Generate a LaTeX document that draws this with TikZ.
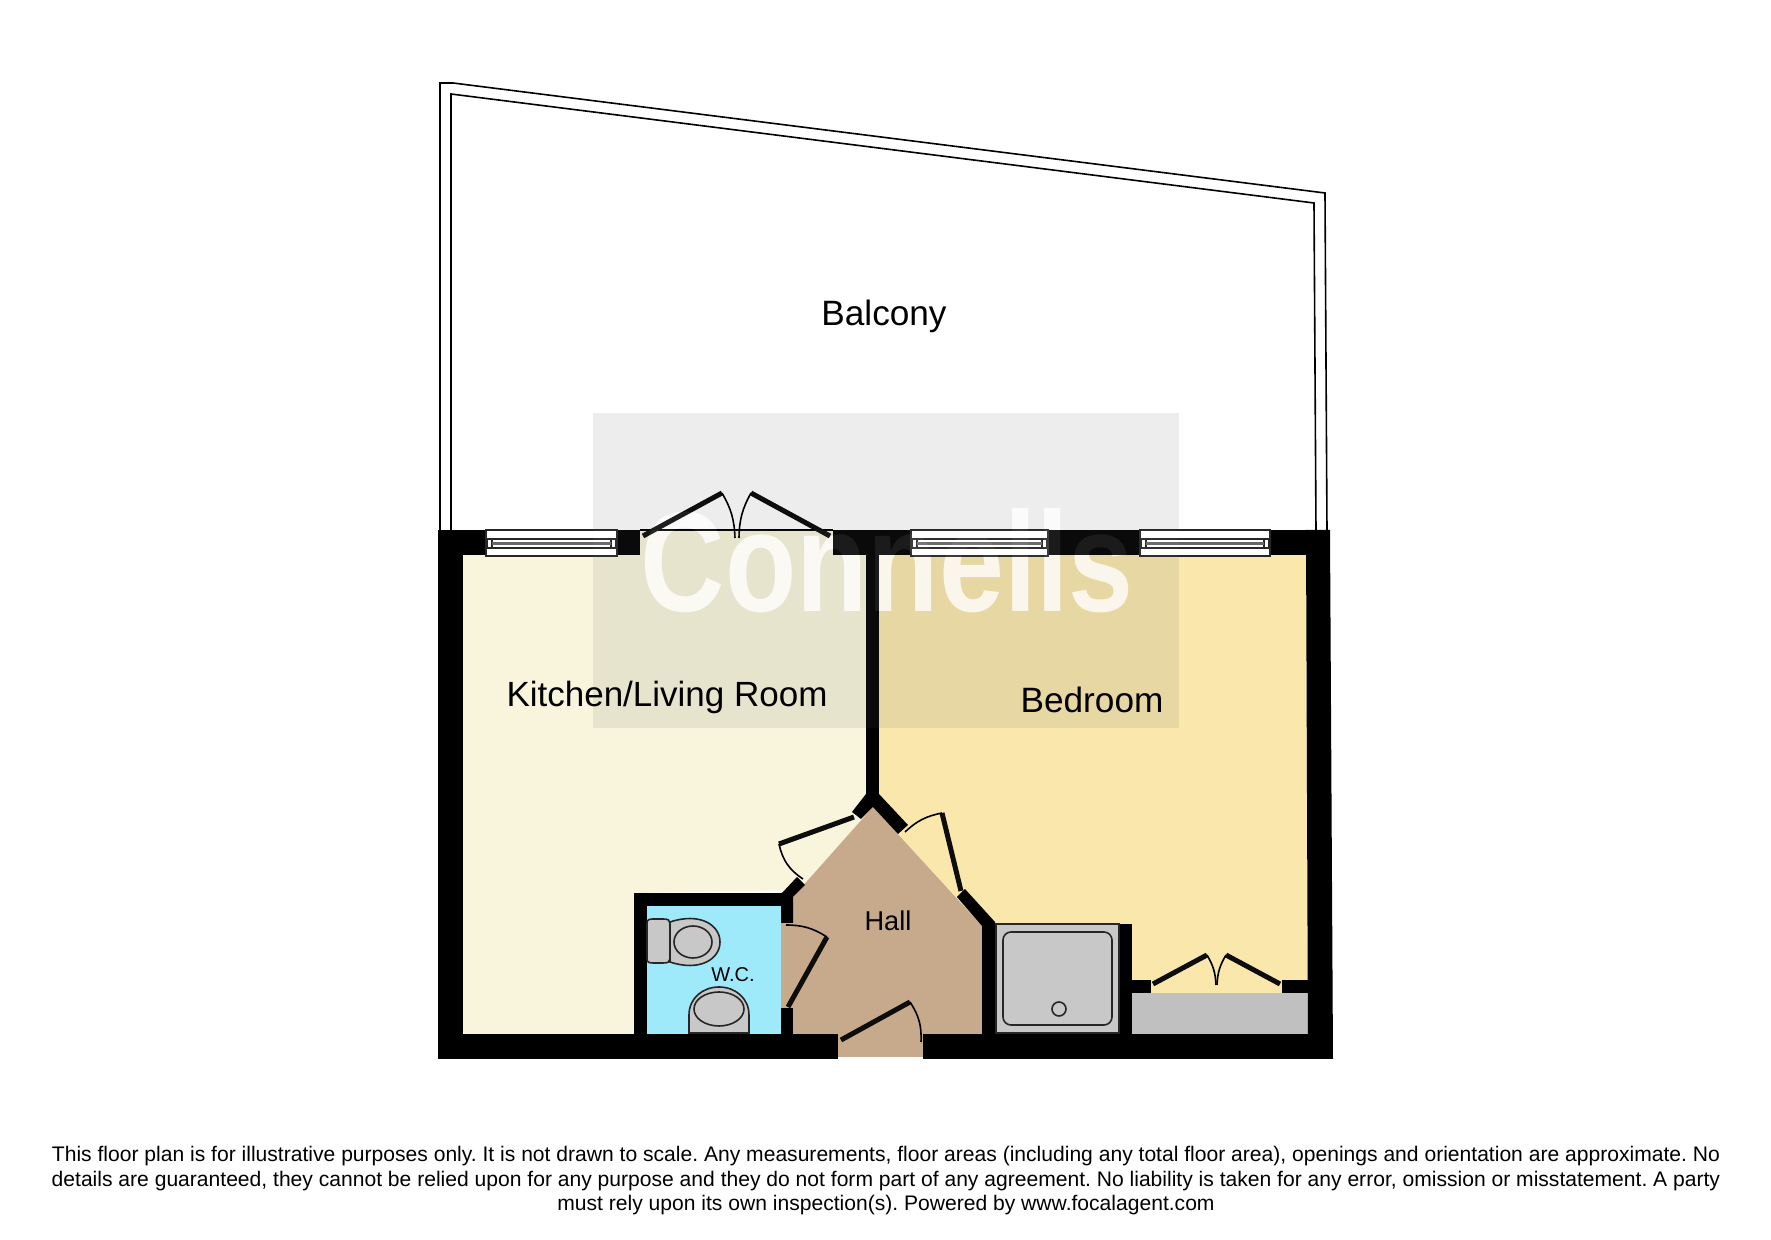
\documentclass[tikz,border=0pt]{standalone}
\usepackage{fontspec}
\setmainfont{Liberation Sans}
\definecolor{kitchenfill}{HTML}{F9F5DC}
\definecolor{bedroomfill}{HTML}{F9E7AC}
\definecolor{hallfill}{HTML}{C7AA8B}
\definecolor{wcfill}{HTML}{9FEAFA}
\definecolor{unitfill}{HTML}{C8C8C8}
\definecolor{cupboardfill}{HTML}{C0C0C0}
\newcommand{\markword}{\fontsize{35.6}{36}\selectfont\bfseries\scalebox{.82}[1]{Connells}}
\begin{document}
\begin{tikzpicture}[
      x=0.25pt, y=-0.25pt,
      wall/.style ={fill=black},
      leaf/.style ={line width=1.25pt,color=black!95},
      swing/.style ={line width=0.4pt,color=black},
      rail/.style ={line width=0.4pt,color=black},
      fixture/.style ={fill=unitfill,draw=black!85,line width=0.4pt},
      frame/.style ={fill=white,draw=black!85,line width=0.4pt},
      room label/.style ={text=black,inner sep=0pt,font=\fontsize{#1}{#1}\selectfont},
      room label/.default=8.7]
    \useasboundingbox (0,0) rectangle (1771,1240);
    % balcony
    \draw[rail] (440,530) -- (440,83) -- (453,83) -- (1325,193) -- (1327,530);
    \draw[rail] (451,530) -- (451,94) -- (1314,203) -- (1316,530);
    % rooms
    \fill[kitchenfill] (463,555) -- (640,555) -- (640,530) -- (833,530) -- (833,555) -- (866,555) -- (866,815)
      -- (800,890) -- (634,893) -- (634,1034) -- (463,1034) -- cycle;
    \fill[bedroomfill] (879,555) -- (1306,555) -- (1308,993) -- (1132,993) -- (1132,924) -- (990,924) -- (982,926) -- (873,807) -- (879,800) -- cycle;
    \fill[hallfill] (873,807) -- (793,897) -- (793,923) -- (781,923) -- (781,1008) -- (793,1008) -- (793,1034)
      -- (838,1034) -- (838,1057) -- (923,1057) -- (923,1034) -- (982,1034) -- (982,926) -- cycle;
    \fill[wcfill] (647,906) rectangle (781,1034);
    \fill[cupboardfill] (1132,993) rectangle (1308,1034);
    % watermark, under the walls
    \fill[black,opacity=.07] (593,413) rectangle (1179,728);
    \node[text=white,text opacity=.8,inner sep=0pt,anchor=base west] (mark) at (640,612) {\markword};
    % walls
    \fill[wall] (438,530) rectangle (463,1059);
    \fill[wall] (438,530) rectangle (640,555);
    \fill[wall] (833,530) rectangle (1330,555);
    \fill[wall] (1306,530) -- (1330,530) -- (1333,1059) -- (1308,1059) -- cycle;
    \fill[wall] (438,1034) rectangle (838,1059);
    \fill[wall] (923,1034) rectangle (1333,1059);
    \fill[wall] (866,555) rectangle (879,800);
    \fill[wall] (852,812) -- (866,794) -- (879,794) -- (908,825) -- (898,834) -- (873,807) -- (861,819) -- cycle;
    \fill[wall] (634,893) rectangle (782,906);
    \fill[wall] (634,893) rectangle (647,1034);
    \fill[wall] (782,893) -- (797,877) -- (805,885) -- (793,897) -- (793,923) -- (781,923) -- (781,893) -- cycle;
    \fill[wall] (781,1008) rectangle (793,1034);
    \fill[wall] (965,889) -- (995,922) -- (995,1034) -- (982,1034) -- (982,926) -- (957,897) -- cycle;
    \fill[wall] (1119,924) rectangle (1132,1034);
    \fill[wall] (1132,980) rectangle (1151,993);
    \fill[wall] (1282,980) rectangle (1308,993);
    \draw[rail] (640,530) -- (833,530);
    % windows
    \foreach \xa/\xb in {486/617,911/1048,1140/1270} {
      \draw[frame] (\xa,530) rectangle (\xb,556);
      \draw[frame] (\xa+1,539) rectangle (\xb-1,548);
      \draw[frame] (\xa+6,539) rectangle (\xb-6,548);
      \draw[line width=0.7pt,color=black!60] (\xa+6,543.5) -- (\xb-6,543.5);
    }
    % doors
    \draw[leaf] (643,536) -- (722,493);
    \draw[swing] (722,493) to[bend left=14] (735,538);
    \draw[leaf] (830,536) -- (751,493);
    \draw[swing] (751,493) to[bend right=14] (739,538);
    \draw[leaf] (854,817) -- (779,844);
    \draw[swing] (779,844) to[bend right=22] (803,879);
    \draw[leaf] (961,891) -- (942,813);
    \draw[swing] (942,813) to[bend right=16] (905,832);
    \draw[leaf] (788,1007) -- (827,937);
    \draw[swing] (827,937) to[bend right=16] (786,925);
    \draw[leaf] (841,1040) -- (910,1002);
    \draw[swing] (910,1002) to[bend left=18] (921,1042);
    \draw[leaf] (1153,984) -- (1207,955);
    \draw[swing] (1207,955) to[bend left=14] (1216,985);
    \draw[leaf] (1280,984) -- (1226,955);
    \draw[swing] (1226,955) to[bend right=14] (1217,985);
    % shower
    \draw[fixture] (996,924) rectangle (1119,1033);
    \draw[fixture,rounded corners=2pt] (1003,932) rectangle (1112,1025);
    \draw[fixture] (1059,1009) circle [radius=7];
    % toilet and basin
    \draw[fixture] (670,922) .. controls (700,912) and (720,925) .. (720,942) .. controls (720,959) and (700,972) .. (670,962) -- cycle;
    \draw[fixture] (647,923) .. controls (647,919) and (650,919) .. (655,919) -- (663,919) .. controls (668,919) and (670,920) .. (670,923)
      -- (670,959) .. controls (670,962) and (668,963) .. (663,963) -- (655,963) .. controls (650,963) and (647,963) .. (647,959) -- cycle;
    \draw[fixture] (693,942) ellipse [x radius=19, y radius=16];
    \draw[fixture] (689,1033) -- (689,1015) .. controls (689,998) and (703,987) .. (719,987) .. controls (735,987) and (749,998) .. (749,1015) -- (749,1033) -- cycle;
    \draw[fixture] (719,1009) ellipse [x radius=25, y radius=17];
    % watermark, over the walls
    \fill[white,opacity=.04] (593,530) rectangle (1179,728);
    \node[text=white,text opacity=.07,inner sep=0pt,anchor=base west] (mark top) at (640,612) {\markword};
    % labels
    \node[room label=8.8] (balcony) at (884,316.5) {Balcony};
    \node[room label=8.75] (kitchen) at (667,697) {Kitchen/Living Room};
    \node[room label=8.8] (bedroom) at (1092,700) {Bedroom};
    \node[room label=6.8] (hall) at (888,921) {Hall};
    \node[room label=5] (wc) at (733,975) {W.C.};
    \node[inner sep=0pt,align=center,font=\fontsize{5.27}{6.12}\selectfont\frenchspacing] (notice) at (886,1181) {This floor plan is for illustrative purposes only. It is not drawn to scale. Any measurements, floor areas (including any total floor area), openings and orientation are approximate. No\\
      details are guaranteed, they cannot be relied upon for any purpose and they do not form part of any agreement. No liability is taken for any error, omission or misstatement. A party\\
      must rely upon its own inspection(s). Powered by www.focalagent.com};
    \end{tikzpicture}
\end{document}
